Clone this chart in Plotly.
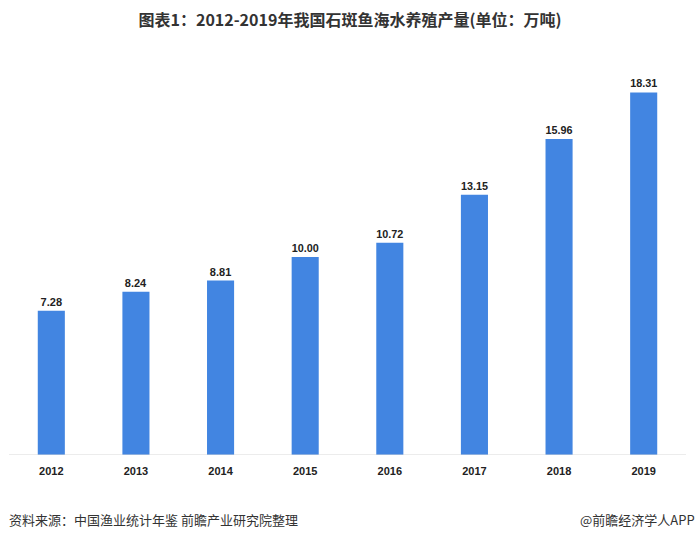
import plotly.graph_objects as go

years = ["2012", "2013", "2014", "2015", "2016", "2017", "2018", "2019"]
values = [7.28, 8.24, 8.81, 10.00, 10.72, 13.15, 15.96, 18.31]
labels = ["7.28", "8.24", "8.81", "10.00", "10.72", "13.15", "15.96", "18.31"]

fig = go.Figure()
fig.add_trace(go.Bar(
    x=years, y=values, text=labels, textposition="outside",
    texttemplate="<b>%{text}</b>",
    textfont=dict(family="Liberation Sans, Arial", size=11, color="#222222"),
    marker=dict(color="#4285E1", line=dict(width=0)),
    cliponaxis=False,
))

fig.update_layout(
    width=700, height=540,
    margin=dict(l=9, r=14, t=59, b=85),
    paper_bgcolor="white", plot_bgcolor="white",
    bargap=0.68,
    showlegend=False,
    font=dict(family="Noto Sans CJK SC, Liberation Sans", color="#222"),
    title=dict(
        text="<b>图表1：2012-2019年我国石斑鱼海水养殖产量(单位：万吨)</b>",
        x=0.5, xanchor="center", y=0.962, yanchor="middle",
        font=dict(size=16, color="#333333", family="Noto Sans CJK SC"),
    ),
    xaxis=dict(
        showgrid=False, showline=False, ticks="", ticklabelstandoff=8,
        tickfont=dict(family="Liberation Sans, Arial", size=11, color="#222222", weight="bold"),
    ),
    yaxis=dict(range=[0, 20], visible=False, showgrid=False),
    shapes=[dict(type="line", xref="paper", yref="y", x0=0, x1=1, y0=0, y1=0,
                 line=dict(color="#D9D9D9", width=1))],
    annotations=[
        dict(text="资料来源：中国渔业统计年鉴 前瞻产业研究院整理", xref="paper", yref="paper",
             x=-0.003, y=-0.163, xanchor="left", yanchor="middle", showarrow=False,
             font=dict(size=13, color="#333333", family="Noto Sans CJK SC")),
        dict(text="@前瞻经济学人APP", xref="paper", yref="paper",
             x=1.016, y=-0.163, xanchor="right", yanchor="middle", showarrow=False,
             font=dict(size=13, color="#333333", family="Noto Sans CJK SC")),
    ],
)
fig.write_html("out.html")
